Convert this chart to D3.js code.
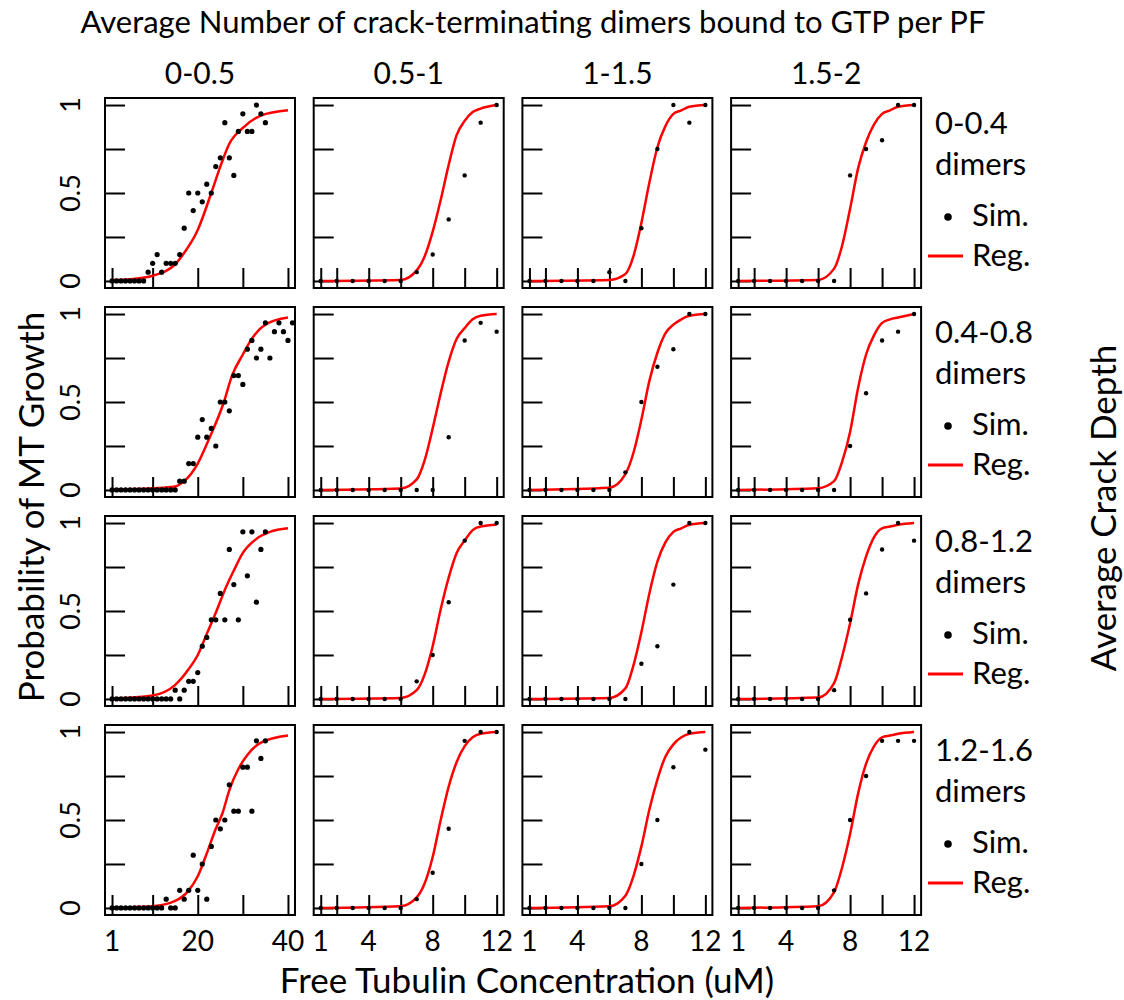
<!DOCTYPE html>
<html>
<head>
<meta charset="utf-8">
<script src="https://cdn.jsdelivr.net/npm/d3@7"></script>
<style>
    body { margin: 0; background: #fff; }
    text { font-family: Lato, "Open Sans", sans-serif; fill: #000; }
</style>
</head>
<body>
<div class="view"></div>
<script>
// Column headers (crack-terminating GTP dimers per PF) and row headers (crack depth)
const colLabels = ["0-0.5", "0.5-1", "1-1.5", "1.5-2"];
const rowLabels = ["0-0.4", "0.4-0.8", "0.8-1.2", "1.2-1.6"];

// Free tubulin concentrations (uM) used by the simulations
const concFirst = [1, 2, 3, 4, 5, 6, 7, 8, 9, 10, 11, 12, 13, 14, 15, 16, 17, 18, 19, 20,
    21, 22, 23, 24, 25, 26, 27, 28, 29, 30, 31, 32, 33, 34, 35, 36, 37, 38, 39, 40, 41];
const concOther = [1, 2, 3, 4, 5, 6, 7, 8, 9, 10, 11, 12];

// Axis ticks and labels
const xTicksFirst = [1, 10, 20, 30, 40];
const xLabelsFirst = [1, 20, 40];
const xTicksOther = [1, 2, 4, 6, 8, 10, 12];
const xLabelsOther = [1, 4, 8, 12];
const yTicks = [0, 0.25, 0.5, 0.75, 1];
const yLabels = [0, 0.5, 1];

// Simulated probability of growth, one array per row (column 1 pairs with concFirst)
const simCol1 = [
    [0, 0, 0, 0, 0, 0, 0, 0, 0.05, 0.1, 0.15, 0.05, 0.1, 0.1, 0.1, 0.15, 0.3, 0.5, 0.4, 0.5,
     0.45, 0.55, 0.5, 0.65, 0.7, 0.9, 0.7, 0.6, 0.85, 0.95, 0.85, 0.85, 1, 0.95, 0.9],
    [0, 0, 0, 0, 0, 0, 0, 0, 0, 0, 0, 0, 0, 0, 0, 0.05, 0.05, 0.15, 0.15, 0.3,
     0.4, 0.3, 0.35, 0.25, 0.5, 0.5, 0.45, 0.65, 0.65, 0.6, 0.8, 0.85, 0.75, 0.8, 0.95,
     0.75, 0.9, 0.95, 0.9, 0.85, 0.95],
    [0, 0, 0, 0, 0, 0, 0, 0, 0, 0, 0, 0, 0, 0, 0.05, 0, 0.05, 0.1, 0.1, 0.15,
     0.3, 0.35, 0.45, 0.45, 0.6, 0.45, 0.85, 0.65, 0.45, 0.95, 0.7, 0.95, 0.55, 0.85, 0.95],
    [0, 0, 0, 0, 0, 0, 0, 0, 0, 0, 0, 0, 0.05, 0, 0, 0.1, 0.05, 0.1, 0.3, 0.1,
     0.25, 0.05, 0.35, 0.5, 0.45, 0.5, 0.7, 0.55, 0.55, 0.8, 0.8, 0.55, 0.95, 0.85, 0.95]
];
const simCol2 = [
    [0, 0, 0, 0, 0, 0, 0.05, 0.15, 0.35, 0.6, 0.9, 1],
    [0, 0, 0, 0, 0, 0, 0, 0, 0.3, 0.85, 0.95, 0.9],
    [0, 0, 0, 0, 0, 0, 0.1, 0.25, 0.55, 0.9, 1, 1],
    [0, 0, 0, 0, 0, 0, 0.05, 0.2, 0.45, 0.95, 1, 1]
];
const simCol3 = [
    [0, 0, 0, 0, 0, 0.05, 0, 0.3, 0.75, 1, 0.9, 1],
    [0, 0, 0, 0, 0, 0, 0.1, 0.5, 0.7, 0.8, 1, 1],
    [0, 0, 0, 0, 0, 0, 0, 0.2, 0.3, 0.65, 1, 1],
    [0, 0, 0, 0, 0, 0, 0, 0.25, 0.5, 0.8, 1, 0.9]
];
const simCol4 = [
    [0, 0, 0, 0, 0, 0, 0, 0.6, 0.75, 0.8, 1, 1],
    [0, 0, 0, 0, 0, 0, 0, 0.25, 0.55, 0.85, 0.9, 1],
    [0, 0, 0, 0, 0, 0, 0.05, 0.45, 0.6, 0.85, 1, 0.9],
    [0, 0, 0, 0, 0, 0, 0.1, 0.5, 0.75, 0.95, 0.95, 0.95]
];

// Regression curves: column 1 as [conc, p] pairs
const regCol1 = [
    [[1, 0.005], [5, 0.01], [10, 0.03], [15, 0.095], [17, 0.16], [20, 0.29], [23, 0.5],
     [25, 0.65], [27, 0.78], [30, 0.87], [34, 0.94], [40, 0.97]],
    [[1, 0.003], [10, 0.01], [15, 0.02], [17, 0.05], [20, 0.15], [22.5, 0.29], [25.8, 0.5],
     [27.6, 0.65], [30, 0.77], [32, 0.86], [35, 0.94], [40, 0.98]],
    [[1, 0.003], [10, 0.02], [15, 0.08], [18, 0.17], [20, 0.25], [22, 0.37], [24, 0.49],
     [26, 0.62], [28, 0.73], [30, 0.83], [33, 0.91], [36, 0.95], [40, 0.97]],
    [[1, 0.002], [10, 0.01], [15, 0.04], [18, 0.1], [20, 0.18], [22, 0.31], [24, 0.45],
     [25.5, 0.54], [27, 0.67], [29, 0.79], [31, 0.87], [34, 0.94], [40, 0.98]]
];
// ...and columns 2-4 on a shared concentration grid
const regConc = [1, 6, 7, 7.5, 8, 8.5, 9, 9.5, 10, 10.5, 11, 12];
const regCol2 = [
    [0, 0.006, 0.06, 0.14, 0.28, 0.46, 0.66, 0.83, 0.91, 0.96, 0.98, 1],
    [0, 0.008, 0.06, 0.17, 0.35, 0.55, 0.73, 0.86, 0.92, 0.97, 0.99, 1],
    [0, 0.006, 0.05, 0.14, 0.3, 0.51, 0.69, 0.83, 0.9, 0.96, 0.98, 0.99],
    [0, 0.01, 0.06, 0.14, 0.29, 0.5, 0.69, 0.83, 0.92, 0.97, 0.99, 1]
];
const regCol3 = [
    [0, 0.006, 0.04, 0.14, 0.33, 0.56, 0.76, 0.88, 0.95, 0.97, 0.99, 1],
    [0, 0.013, 0.09, 0.21, 0.4, 0.62, 0.78, 0.89, 0.94, 0.97, 0.99, 1],
    [0, 0.006, 0.06, 0.19, 0.38, 0.6, 0.78, 0.89, 0.95, 0.97, 0.99, 1],
    [0, 0.01, 0.07, 0.18, 0.35, 0.56, 0.73, 0.86, 0.93, 0.97, 0.99, 1]
];
const regCol4 = [
    [0, 0.006, 0.07, 0.2, 0.41, 0.64, 0.79, 0.89, 0.95, 0.97, 0.99, 1],
    [0, 0.01, 0.05, 0.16, 0.33, 0.58, 0.77, 0.88, 0.95, 0.97, 0.98, 1],
    [0, 0.008, 0.09, 0.24, 0.43, 0.65, 0.81, 0.92, 0.97, 0.98, 0.99, 1],
    [0, 0.01, 0.09, 0.23, 0.42, 0.65, 0.82, 0.92, 0.97, 0.98, 0.99, 1]
];

/** Class drawing the 4x4 grid of growth-probability panels */
class CrackGrid {

    constructor(){
        this.width = 1124;
        this.height = 1000;
        // first panel corner, panel size and spacing
        this.left = 105;
        this.top = 98;
        this.size = 190;
        this.stepX = 208.7;
        this.stepY = 209;
        this.tick = 20;
    }

    /** Builds the panels, headers and titles */
    draw(){
        let svg = d3.select(".view").append("svg")
            .attr("width", this.width)
            .attr("height", this.height);

        let sims = [simCol1, simCol2, simCol3, simCol4];
        let regs = [regCol1, regCol2, regCol3, regCol4];

        for (let c = 0; c < 4; c++) {
            for (let r = 0; r < 4; r++) {
                let sim, reg;
                if (c === 0) {
                    sim = simCol1[r].map((p, i) => [concFirst[i], p]);
                    reg = regCol1[r];
                } else {
                    sim = sims[c][r].map((p, i) => [concOther[i], p]);
                    reg = regs[c][r].map((p, i) => [regConc[i], p]);
                }
                this.panel(svg, r, c, sim, reg);
            }
        }

        // column headers
        svg.append("g").selectAll("text")
            .data(colLabels)
            .enter().append("text")
            .attr("x", (d, i) => this.left + i * this.stepX + this.size / 2)
            .attr("y", this.top - 14)
            .attr("text-anchor", "middle")
            .style("font-size", "30px")
            .text(d => d);

        // row headers with the little legend next to each row
        for (let r = 0; r < 4; r++) {
            let y0 = this.top + r * this.stepY;
            let leg = svg.append("g");
            leg.append("text").attr("x", 935).attr("y", y0 + 36)
                .style("font-size", "31px").text(rowLabels[r]);
            leg.append("text").attr("x", 935).attr("y", y0 + 77)
                .style("font-size", "31px").text("dimers");
            leg.append("circle").attr("cx", 948).attr("cy", y0 + 119).attr("r", 3.8)
                .attr("fill", "#000");
            leg.append("text").attr("x", 972).attr("y", y0 + 128)
                .style("font-size", "31px").text("Sim.");
            leg.append("line").attr("x1", 928).attr("x2", 963)
                .attr("y1", y0 + 158).attr("y2", y0 + 158)
                .attr("stroke", "red").attr("stroke-width", 3);
            leg.append("text").attr("x", 972).attr("y", y0 + 168)
                .style("font-size", "31px").text("Reg.");
        }

        // titles
        svg.append("text")
            .attr("x", 533).attr("y", 33)
            .attr("text-anchor", "middle")
            .style("font-size", "31px")
            .text("Average Number of crack-terminating dimers bound to GTP per PF");
        svg.append("text")
            .attr("x", 527).attr("y", 993)
            .attr("text-anchor", "middle")
            .style("font-size", "35px")
            .text("Free Tubulin Concentration (uM)");
        svg.append("text")
            .attr("transform", "translate(44,507) rotate(-90)")
            .attr("text-anchor", "middle")
            .style("font-size", "35px")
            .text("Probability of MT Growth");
        svg.append("text")
            .attr("transform", "translate(1116,508) rotate(-90)")
            .attr("text-anchor", "middle")
            .style("font-size", "35px")
            .text("Average Crack Depth");
    }

    /** One panel: box, inward ticks, simulated points and regression curve */
    panel(svg, r, c, sim, reg){
        let s = this.size;
        let g = svg.append("g")
            .attr("transform", "translate(" + (this.left + c * this.stepX) + "," + (this.top + r * this.stepY) + ")");

        // R style axes: 4% padding around the data range
        let lo = 1, hi = c === 0 ? 40 : 12;
        let pad = (hi - lo) * 0.04;
        let x = d3.scaleLinear().domain([lo - pad, hi + pad]).range([0, s]);
        let y = d3.scaleLinear().domain([-0.04, 1.04]).range([s, 0]);

        let xAxis = g.append("g")
            .attr("transform", "translate(0," + s + ")")
            .call(d3.axisBottom(x).tickValues(c === 0 ? xTicksFirst : xTicksOther)
                .tickSize(-this.tick).tickFormat(""));
        let yAxis = g.append("g")
            .call(d3.axisLeft(y).tickValues(yTicks).tickSize(-this.tick).tickFormat(""));
        [xAxis, yAxis].forEach(a => {
            a.select(".domain").remove();
            a.selectAll("line").attr("stroke", "#000").attr("stroke-width", 2);
        });

        // regression line
        let line = d3.line()
            .x(d => x(d[0]))
            .y(d => y(d[1]))
            .curve(d3.curveMonotoneX);
        g.append("path")
            .datum(reg)
            .attr("d", line)
            .attr("fill", "none")
            .attr("stroke", "red")
            .attr("stroke-width", 2.5);

        // simulated points
        g.append("g").selectAll("circle")
            .data(sim)
            .enter().append("circle")
            .attr("cx", d => x(d[0]))
            .attr("cy", d => y(d[1]))
            .attr("r", c === 0 ? 2.6 : 2.2)
            .attr("fill", "#000");

        // frame
        g.append("rect")
            .attr("width", s).attr("height", s)
            .attr("fill", "none")
            .attr("stroke", "#000")
            .attr("stroke-width", 2);

        // tick labels only on the outer panels
        if (r === 3) {
            g.append("g").selectAll("text")
                .data(c === 0 ? xLabelsFirst : xLabelsOther)
                .enter().append("text")
                .attr("x", d => x(d))
                .attr("y", s + 36)
                .attr("text-anchor", "middle")
                .style("font-size", "28px")
                .text(d => d);
        }
        if (c === 0) {
            g.append("g").selectAll("text")
                .data(yLabels)
                .enter().append("text")
                .attr("transform", d => "translate(-25," + y(d) + ") rotate(-90)")
                .attr("text-anchor", "middle")
                .style("font-size", "27px")
                .text(d => d);
        }
    }
}

let grid = new CrackGrid();
grid.draw();
</script>
</body>
</html>
